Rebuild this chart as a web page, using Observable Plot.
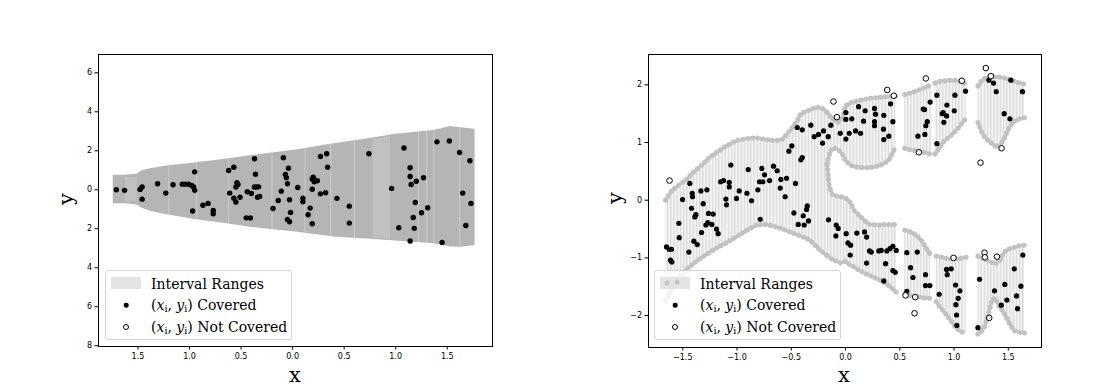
<!DOCTYPE html>
<html><head><meta charset="utf-8">
<script src="https://cdn.jsdelivr.net/npm/d3@7"></script>
<script src="https://cdn.jsdelivr.net/npm/@observablehq/plot@0.6"></script>
<style>
body{margin:0;background:#fff;}
#wrap{position:relative;width:1110px;height:392px;overflow:hidden;background:#fff;}
#wrap svg{position:absolute;top:0;}
.lab{position:absolute;font-family:"DejaVu Serif",serif;font-size:21px;color:#000;line-height:1;transform:translate(-50%,-50%);}
.legend{position:absolute;box-sizing:border-box;border:1px solid #d4d4d4;border-radius:3px;background:rgba(255,255,255,0.8);font-family:"DejaVu Serif",serif;font-size:14px;color:#000;}
.legend .t{position:absolute;white-space:nowrap;line-height:1;transform:translateY(-50%);}
.legend sub{font-size:0.68em;vertical-align:-0.25em;line-height:0;}
.legend .patch{position:absolute;width:30px;height:11.5px;background:#e4e4e4;}
.legend .m{position:absolute;border-radius:50%;box-sizing:border-box;transform:translate(-50%,-50%);}
</style></head>
<body>
<div id="wrap"></div>
<script>
// ---------- LEFT PANEL DATA ----------
const leftXTicks = [-1.5, -1.0, -0.5, 0.0, 0.5, 1.0, 1.5];
const leftYTicks = [-8, -6, -4, -2, 0, 2, 4, 6];
// [x, lower, upper]
const leftBand = [
  [-1.74,-0.72,0.75],[-1.63,-0.72,0.75],[-1.51,-0.78,0.80],[-1.46,-0.95,0.98],[-1.38,-1.10,1.08],
  [-1.22,-1.28,1.22],[-0.95,-1.52,1.38],[-0.67,-1.72,1.55],[-0.41,-1.92,1.75],[0.05,-2.18,2.05],
  [0.40,-2.42,2.36],[0.72,-2.53,2.61],[1.00,-2.63,2.85],[1.37,-2.77,3.04],[1.53,-2.94,3.25],
  [1.63,-2.95,3.18],[1.77,-2.86,3.10]
];
// lighter blocks inside the band [block, x, lower, upper]
const leftLightBlocks = [
  [0,-1.62,-0.62,0.62],[0,-1.51,-0.62,0.62],
  [1,0.78,-2.50,2.58],[1,0.95,-2.55,2.72]
];
// thin light streaks [x, lower, upper]
const leftStreaks = [
  [-0.93,-1.50,1.36],[0.37,-2.40,2.34],[1.22,-2.70,2.95],[1.30,-2.72,2.98],[1.37,-2.75,3.02],
  [-0.20,-2.05,1.95],[-1.20,-1.28,1.22],[-0.62,-1.75,1.58],[0.12,-2.22,2.10],[0.60,-2.50,2.52],
  [1.62,-2.94,3.18]
];
const leftCovered = [
  [-1.71,0.00],[-1.63,-0.03],[-1.48,0.02],[-1.46,0.14],[-1.46,-0.48],[-1.31,0.31],[-1.23,-0.17],
  [-1.16,0.26],[-1.07,0.29],[-1.04,0.29],[-1.01,0.29],[-0.98,0.22],[-0.96,0.14],[-0.95,-0.03],
  [-0.97,-1.09],[-0.95,0.92],[-0.87,-0.79],[-0.82,-0.70],[-0.77,-1.06],[-0.77,-1.23],[-0.62,0.99],
  [-0.57,1.16],[-0.61,-0.17],[-0.55,0.14],[-0.54,0.36],[-0.53,0.27],[-0.57,-0.43],[-0.55,-0.63],
  [-0.51,-0.38],[-0.37,1.59],[-0.36,0.80],[-0.37,0.14],[-0.35,0.14],[-0.33,0.15],[-0.34,-0.38],
  [-0.32,-0.34],[-0.44,-0.10],[-0.40,-0.19],[-0.45,-1.44],[-0.41,-1.45],[-0.19,-0.96],[-0.14,-0.55],
  [-0.11,-0.07],[-0.09,1.64],[-0.07,0.79],[-0.06,0.62],[-0.05,0.31],[-0.04,1.11],[-0.03,-0.51],
  [-0.05,-1.52],[-0.03,-1.64],[-0.02,-1.16],[0.05,0.12],[0.10,-0.43],[0.10,-0.62],[0.15,-1.28],
  [0.17,-0.94],[0.19,-1.74],[0.19,0.03],[0.19,0.55],[0.20,0.65],[0.21,0.41],[0.22,0.48],[0.24,0.46],
  [0.27,1.71],[0.27,-0.21],[0.32,-0.15],[0.33,1.85],[0.34,1.16],[0.43,-0.44],[0.55,-0.84],[0.55,-1.71],
  [0.74,1.85],[0.96,0.07],[1.03,-1.95],[1.08,2.14],[1.14,1.13],[1.14,0.68],[1.15,0.27],[1.20,0.44],
  [1.27,0.62],[1.19,-0.65],[1.17,-1.42],[1.18,-1.98],[1.14,-2.63],[1.25,-1.18],[1.31,-0.92],
  [1.40,2.46],[1.45,-2.70],[1.52,2.50],[1.62,1.91],[1.65,-0.17],[1.68,-1.83],[1.72,1.49],[1.73,-0.70]
];

// ---------- RIGHT PANEL DATA ----------
const rightXTicks = [-1.5, -1.0, -0.5, 0.0, 0.5, 1.0, 1.5];
const rightYTicks = [-2, -1, 0, 1, 2];
// interval pieces: [x, lower, upper]
const pieceA = [
  [-1.66,-1.75,0.00],[-1.60,-1.55,0.17],[-1.53,-1.35,0.27],[-1.47,-1.20,0.35],[-1.40,-1.10,0.49],
  [-1.34,-1.01,0.58],[-1.26,-0.91,0.73],[-1.18,-0.82,0.84],[-1.09,-0.73,0.95],[-1.01,-0.64,1.03],
  [-0.91,-0.52,1.07],[-0.82,-0.43,1.08],[-0.73,-0.42,1.05],[-0.645,-0.46,1.03],[-0.58,-0.50,1.06],
  [-0.51,-0.55,1.21],[-0.445,-0.60,1.38],[-0.415,-0.62,1.50],[-0.35,-0.67,1.55],[-0.30,-0.74,1.59],
  [-0.25,-0.84,1.61],[-0.20,-0.92,1.58],[-0.17,-0.96,1.52]
];
const pieceB = [
  [-0.17,-0.96,0.62],[-0.16,-0.98,0.40],[-0.15,-0.99,0.23],[-0.12,-1.03,0.10],[-0.08,-1.06,0.07],
  [-0.04,-1.09,0.06],[0.00,-1.06,0.04],[0.04,-1.12,-0.03],[0.08,-1.16,-0.18],[0.13,-1.22,-0.27],
  [0.18,-1.27,-0.36],[0.22,-1.30,-0.42],[0.30,-1.37,-0.43],[0.38,-1.45,-0.42],[0.47,-1.60,-0.42]
];
const pieceC = [
  [-0.17,0.62,1.52],[-0.16,0.72,1.50],[-0.14,0.85,1.45],[-0.11,0.91,1.40],[-0.07,0.88,1.35],
  [-0.03,0.80,1.42],[0.00,0.68,1.64],[0.05,0.60,1.69],[0.11,0.57,1.72],[0.18,0.56,1.75],
  [0.24,0.57,1.77],[0.30,0.59,1.78],[0.36,0.64,1.79],[0.40,0.70,1.80],[0.43,0.80,1.80],[0.46,0.92,1.80]
];
const pieceD = [
  [0.545,0.90,1.83],[0.60,0.87,1.86],[0.65,0.86,1.89],[0.70,0.845,1.93],[0.75,0.81,1.97],[0.80,0.79,2.01]
];
const pieceE = [
  [0.545,-1.62,-0.52],[0.60,-1.66,-0.55],[0.65,-1.67,-0.60],[0.70,-1.69,-0.70],[0.75,-1.70,-0.85],[0.785,-1.70,-0.95]
];
const pieceF = [
  [0.825,0.80,2.03],[0.87,0.92,2.06],[0.91,1.03,2.07],[0.96,1.10,2.08],[1.00,1.17,2.08],
  [1.04,1.25,2.07],[1.08,1.35,2.04],[1.112,1.42,2.01]
];
const pieceG = [
  [0.835,-1.76,-0.97],[0.87,-1.85,-0.98],[0.91,-1.94,-1.00],[0.96,-2.06,-1.02],[1.00,-2.17,-1.02],
  [1.04,-2.25,-1.01],[1.08,-2.29,-1.00],[1.112,-2.31,-0.99]
];
const pieceH = [
  [1.22,1.35,1.98],[1.25,1.20,2.06],[1.28,1.10,2.11],[1.32,1.02,2.13],[1.37,0.95,2.14],[1.40,0.91,2.14],
  [1.43,0.97,2.13],[1.46,1.06,2.12],[1.50,1.23,2.10],[1.54,1.35,2.07],[1.59,1.40,2.04],[1.65,1.43,2.01]
];
const pieceI = [
  [1.22,-2.32,-0.97],[1.25,-2.28,-0.99],[1.28,-2.20,-1.02],[1.32,-1.95,-1.05],[1.35,-1.72,-1.08],
  [1.38,-1.70,-1.10],[1.42,-1.85,-1.05],[1.46,-1.95,-0.90],[1.50,-2.10,-0.85],[1.55,-2.26,-0.82],
  [1.60,-2.29,-0.79],[1.65,-2.30,-0.78]
];
const rightCovered = [
  [-1.435,0.29],[-1.502,0.01],[-1.413,0.12],[-1.410,0.06],[-1.333,0.16],[-1.278,0.18],[-1.152,0.32],
  [-1.124,0.34],[-1.072,0.31],[-1.072,0.23],[-1.057,0.61],[-1.103,0.02],[-1.005,0.03],[-0.980,0.16],
  [-0.909,0.12],[-0.897,0.53],[-0.866,-0.01],[-0.808,0.18],[-0.771,0.55],[-0.793,0.32],[-0.762,0.32],
  [-0.747,0.44],[-0.700,0.34],[-0.664,0.59],[-0.630,0.51],[-0.596,0.36],[-0.544,0.38],[-0.602,0.21],
  [-0.556,0.06],[-0.461,0.29],[-0.522,0.85],[-0.495,0.94],[-0.412,0.70],[-0.399,0.74],[-0.445,1.26],
  [-0.399,1.22],[-0.320,1.30],[-0.289,1.10],[-0.249,1.14],[-0.212,0.99],[-0.203,1.20],[-0.160,1.10],
  [-0.135,1.30],[-0.049,1.16],[0.003,1.52],[0.003,1.40],[0.003,1.06],
  [0.058,1.41],[0.034,1.16],[0.120,1.62],[0.181,1.55],[0.166,1.37],[0.267,1.59],[0.276,1.49],
  [0.267,1.36],[0.267,1.29],[0.092,1.20],[0.138,1.16],[0.353,1.47],[0.415,1.67],[0.436,1.36],
  [0.350,1.23],[0.399,1.11],[0.353,1.05],[0.716,1.58],[0.728,1.57],[0.780,1.70],[0.842,1.82],
  [0.891,1.50],[0.900,1.52],[0.934,1.65],[0.931,1.46],[0.906,1.35],[1.002,1.55],[1.008,1.82],
  [1.106,1.89],[0.753,1.36],[0.740,1.29],[0.731,1.14],[0.667,1.11],[0.842,0.98],[1.321,2.08],
  [1.364,2.03],[1.389,1.88],[1.524,2.08],[1.631,1.88],[1.462,1.50],[1.515,1.41],
  [-1.650,-0.81],[-1.625,-0.85],[-1.604,-0.85],[-1.613,-1.04],[-1.601,-1.07],[-1.536,-0.40],
  [-1.533,-0.65],[-1.444,-0.90],[-1.419,-0.14],[-1.398,-0.71],[-1.379,-0.25],[-1.389,-0.29],
  [-1.367,-0.77],[-1.327,-0.56],[-1.312,-0.06],[-1.263,-0.23],[-1.220,-0.24],[-1.287,-0.43],
  [-1.269,-0.39],[-1.232,-0.42],[-1.189,-0.50],[-1.174,-0.58],[-1.097,-0.08],[-0.786,-0.33],
  [-0.476,-0.22],[-0.390,-0.27],[-0.353,-0.10],[-0.359,-0.16],[-0.341,-0.36],[-0.381,-0.43],
  [-0.436,-0.42],[-0.157,-0.34],[-0.086,-0.43],[-0.068,-0.49],[-0.089,-0.62],
  [0.006,-0.58],[0.022,-0.74],[0.046,-0.78],[0.043,-0.95],[0.104,-0.57],[0.175,-0.55],[0.194,-0.64],
  [0.221,-0.88],[0.237,-0.90],[0.307,-0.88],[0.329,-0.87],[0.381,-0.88],[0.409,-0.84],[0.436,-0.80],
  [0.467,-0.87],[0.194,-1.09],[0.369,-1.10],[0.353,-1.40],[0.436,-1.22],[0.458,-1.25],[0.565,-0.91],
  [0.661,-0.90],[0.599,-1.17],[0.621,-1.34],[0.737,-1.29],[0.737,-1.48],[0.777,-1.48],[0.565,-1.58],
  [0.863,-1.63],[0.931,-1.20],[0.974,-1.19],[0.937,-1.29],[1.014,-1.47],[1.054,-1.57],[1.038,-1.70],
  [1.017,-1.81],[1.023,-1.99],[1.026,-2.17],[1.220,-2.21],[1.235,-1.37],[1.373,-1.57],[1.435,-1.82],
  [1.468,-1.46],[1.487,-1.73],[1.555,-1.19],[1.576,-1.66],[1.585,-1.88],[1.616,-1.49],[1.634,-0.95]
];
const rightNotCovered = [
  [-1.622,0.34],[-0.111,1.71],[-0.080,1.44],[0.384,1.91],[0.445,1.81],[0.740,2.11],[1.072,2.07],
  [0.676,0.83],[1.293,2.29],[1.339,2.15],[1.438,0.90],[1.244,0.65],[0.995,-1.00],[0.553,-1.65],
  [0.642,-1.68],[0.636,-1.96],[1.281,-0.91],[1.284,-0.99],[1.395,-0.98],[1.324,-2.04]
];

// ---------- BUILD ----------
const wrap = document.getElementById("wrap");
const baseStyle = {fontFamily: "DejaVu Sans, sans-serif", fontSize: "8px", color: "#000", background: "transparent", overflow: "visible"};

const leftSvg = Plot.plot({
  width: 555, height: 392,
  marginLeft: 98, marginRight: 63, marginTop: 54, marginBottom: 46,
  x: {domain: [-1.883, 1.939]},
  y: {domain: [-8.04, 6.94]},
  style: baseStyle,
  marks: [
    Plot.areaY(leftBand, {x: d => d[0], y1: d => d[1], y2: d => d[2], fill: "#b5b5b5", curve: "linear"}),
    Plot.areaY(leftLightBlocks, {x: d => d[1], y1: d => d[2], y2: d => d[3], z: d => d[0], fill: "#c1c1c1"}),
    Plot.ruleX(leftStreaks, {x: d => d[0], y1: d => d[1], y2: d => d[2], stroke: "#cdcdcd", strokeWidth: 1}),
    Plot.dot(leftCovered, {x: d => d[0], y: d => d[1], r: 2.7, fill: "black"}),
    Plot.frame({stroke: "black", strokeWidth: 1}),
    Plot.axisX({ticks: leftXTicks, tickFormat: d => Math.abs(d).toFixed(1), tickSize: 3.5, tickPadding: 3, label: null}),
    Plot.axisY({ticks: leftYTicks, tickFormat: d => String(Math.abs(d)), tickSize: 3.5, tickPadding: 3, label: null})
  ]
});
leftSvg.style.left = "0px";
wrap.appendChild(leftSvg);

const pieces = [pieceA, pieceB, pieceC, pieceD, pieceE, pieceF, pieceG, pieceH, pieceI];
const intervalRows = pieces.flatMap((p, i) => p.map(r => ({piece: i, x: r[0], lo: r[1], hi: r[2]})));
const minus = d => (d < 0 ? "\u2212" : "") + Math.abs(d);
const dotted = {stroke: "#c2c2c2", strokeWidth: 5, strokeLinecap: "round", strokeDasharray: "0.5,4.5", curve: "linear"};

const rightSvg = Plot.plot({
  width: 555, height: 392,
  marginLeft: 93, marginRight: 69, marginTop: 54, marginBottom: 45,
  x: {domain: [-1.816, 1.806]},
  y: {domain: [-2.553, 2.525]},
  style: baseStyle,
  marks: [
    Plot.areaY(intervalRows, {x: "x", y1: "lo", y2: "hi", z: "piece", fill: "url(#vstripes)"}),
    Plot.line(intervalRows, {x: "x", y: "hi", z: "piece", ...dotted}),
    Plot.line(intervalRows, {x: "x", y: "lo", z: "piece", ...dotted}),
    Plot.dot(rightCovered, {x: d => d[0], y: d => d[1], r: 2.6, fill: "black"}),
    Plot.dot(rightNotCovered, {x: d => d[0], y: d => d[1], r: 2.8, fill: "white", stroke: "black", strokeWidth: 1}),
    Plot.frame({stroke: "black", strokeWidth: 1}),
    Plot.axisX({ticks: rightXTicks, tickFormat: d => (d < 0 ? "\u2212" : "") + Math.abs(d).toFixed(1), tickSize: 3.5, tickPadding: 3, label: null}),
    Plot.axisY({ticks: rightYTicks, tickFormat: minus, tickSize: 3.5, tickPadding: 3, label: null})
  ]
});
// stripe pattern for the interval ranges
const NS = "http://www.w3.org/2000/svg";
const defs = document.createElementNS(NS, "defs");
const pat = document.createElementNS(NS, "pattern");
pat.setAttribute("id", "vstripes");
pat.setAttribute("patternUnits", "userSpaceOnUse");
pat.setAttribute("width", "3.2");
pat.setAttribute("height", "8");
const bg = document.createElementNS(NS, "rect");
bg.setAttribute("width", "3.2"); bg.setAttribute("height", "8"); bg.setAttribute("fill", "#f4f4f4");
const st = document.createElementNS(NS, "rect");
st.setAttribute("width", "1.1"); st.setAttribute("height", "8"); st.setAttribute("fill", "#d6d6d6");
pat.appendChild(bg); pat.appendChild(st); defs.appendChild(pat);
rightSvg.insertBefore(defs, rightSvg.firstChild);
rightSvg.style.left = "555px";
wrap.appendChild(rightSvg);

// ---------- LABELS ----------
function addLabel(text, x, y, rot) {
  const d = document.createElement("div");
  d.className = "lab";
  d.textContent = text;
  d.style.left = x + "px"; d.style.top = y + "px";
  if (rot) d.style.transform = "translate(-50%,-50%) rotate(-90deg)";
  wrap.appendChild(d);
}
addLabel("x", 295, 375);
addLabel("x", 844, 375);
addLabel("y", 66, 199, true);
addLabel("y", 615, 198, true);

const mathLabel = `(<i>x</i><sub>i</sub>, <i>y</i><sub>i</sub>)`;
function addLegend(left, top, dotsInPatch) {
  const lg = document.createElement("div");
  lg.className = "legend";
  lg.style.left = left + "px"; lg.style.top = top + "px";
  lg.style.width = "187px"; lg.style.height = "70px";
  let patch = `<div class="patch" style="left:5px;top:6px;"></div>`;
  if (dotsInPatch) {
    patch += `<div class="m" style="left:12px;top:12px;width:5px;height:5px;background:#c6c6c6"></div>` +
             `<div class="m" style="left:22px;top:10.5px;width:5px;height:5px;background:#c6c6c6"></div>`;
  }
  lg.innerHTML = patch +
    `<div class="t" style="left:45px;top:12.5px">Interval Ranges</div>` +
    `<div class="m" style="left:20px;top:34px;width:4.6px;height:4.6px;background:#000"></div>` +
    `<div class="t" style="left:45px;top:34px">${mathLabel} Covered</div>` +
    `<div class="m" style="left:20px;top:55.5px;width:6px;height:6px;background:#fff;border:1px solid #000"></div>` +
    `<div class="t" style="left:45px;top:55.5px">${mathLabel} Not Covered</div>`;
  wrap.appendChild(lg);
}
addLegend(105, 270, false);
addLegend(654, 270, true);
</script>
</body></html>
